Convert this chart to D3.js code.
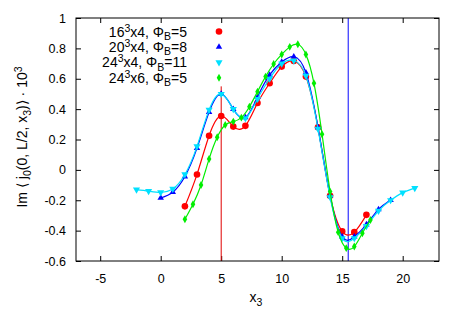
<!DOCTYPE html>
<html>
<head>
<meta charset="utf-8">
<script src="https://cdn.jsdelivr.net/npm/d3@7"></script>
<style>
    body { margin: 0; background: #fff; }
    svg text { font-family: "Liberation Sans", Arial, sans-serif; fill: #000; }
</style>
</head>
<body>
<svg id="chart" width="467" height="327"></svg>
<script>
// lattice positions x3 and Im<j0> * 10^3 for each run
const redX   = [2, 3, 4, 5, 6, 7, 8, 9, 10, 11, 12, 13, 14, 15, 16, 17];
const redY   = [-0.24, -0.03, 0.225, 0.355, 0.285, 0.29, 0.44, 0.57, 0.68, 0.717, 0.614, 0.28, -0.17, -0.405, -0.41, -0.296];

const blueX  = [0, 1, 2, 3, 4, 5, 6, 7, 8, 9, 10, 11, 12, 13, 14, 15, 16, 17, 18, 19];
const blueY  = [-0.185, -0.147, -0.044, 0.143, 0.38, 0.5, 0.4, 0.345, 0.48, 0.625, 0.71, 0.745, 0.64, 0.28, -0.17, -0.44, -0.44, -0.36, -0.26, -0.2];

const cyanX  = [-2, -1, 0, 1, 2, 3, 4, 5, 6, 7, 8, 9, 10, 11, 12, 13, 14, 15, 16, 17, 18, 19, 20, 21];
const cyanY  = [-0.13, -0.14, -0.148, -0.125, -0.03, 0.155, 0.395, 0.5, 0.4, 0.34, 0.467, 0.6, 0.7, 0.72, 0.62, 0.27, -0.18, -0.45, -0.45, -0.37, -0.27, -0.2, -0.15, -0.12];

const greenX = [2, 2.667, 3.333, 4, 4.667, 5.333, 6, 6.667, 7.333, 8, 8.667, 9.333, 10, 10.667, 11.333, 12, 12.667, 13.333, 14, 14.667, 15.333, 16, 16.667, 17.333];
const greenY = [-0.325, -0.226, -0.1, 0.072, 0.215, 0.296, 0.318, 0.344, 0.416, 0.515, 0.614, 0.697, 0.76, 0.81, 0.827, 0.76, 0.57, 0.235, -0.143, -0.41, -0.515, -0.505, -0.417, -0.33];

const xTicks = [-5, 0, 5, 10, 15, 20];
const yTicks = [-0.6, -0.4, -0.2, 0, 0.2, 0.4, 0.6, 0.8, 1];

// vertical markers: [x3, yFrom, yTo]
const redMark  = [5, -0.6, 0.55];
const blueMark = [15.5, -0.6, 1];

const LEFT = 76, RIGHT = 439, TOP = 18, BOTTOM = 261;
const FONT = '"Liberation Sans", Arial, sans-serif';

const svg = d3.select('#chart');

const x = d3.scaleLinear().domain([-7, 23]).range([LEFT, RIGHT]);
const y = d3.scaleLinear().domain([-0.6, 1]).range([BOTTOM, TOP]);

// gnuplot style labels: plain hyphen for negatives
const fmt = d => String(+d.toFixed(1));

// ticks, inward, mirrored on all sides
const TICK = 5;
svg.append('g')
    .attr('transform', `translate(0,${BOTTOM})`)
    .call(d3.axisBottom(x).tickValues(xTicks).tickSizeInner(-TICK).tickSizeOuter(0).tickPadding(13).tickFormat(fmt))
    .call(g => g.select('.domain').remove())
    .call(g => g.selectAll('text').attr('font-size', 12.5).attr('font-family', FONT));
svg.append('g')
    .attr('transform', `translate(0,${TOP})`)
    .call(d3.axisTop(x).tickValues(xTicks).tickSizeInner(-TICK).tickSizeOuter(0).tickFormat(''))
    .call(g => g.select('.domain').remove());
svg.append('g')
    .attr('transform', `translate(${LEFT},0)`)
    .call(d3.axisLeft(y).tickValues(yTicks).tickSizeInner(-TICK).tickSizeOuter(0).tickPadding(10).tickFormat(fmt))
    .call(g => g.select('.domain').remove())
    .call(g => g.selectAll('text').attr('font-size', 12.5).attr('font-family', FONT));
svg.append('g')
    .attr('transform', `translate(${RIGHT},0)`)
    .call(d3.axisRight(y).tickValues(yTicks).tickSizeInner(-TICK).tickSizeOuter(0).tickFormat(''))
    .call(g => g.select('.domain').remove());

// vertical lines
svg.append('line')
    .attr('x1', x(redMark[0])).attr('x2', x(redMark[0]))
    .attr('y1', y(redMark[1])).attr('y2', y(redMark[2]))
    .attr('stroke', '#e00000').attr('stroke-width', 1);
svg.append('line')
    .attr('x1', x(blueMark[0])).attr('x2', x(blueMark[0]))
    .attr('y1', y(blueMark[1])).attr('y2', y(blueMark[2]))
    .attr('stroke', '#3030ff').attr('stroke-width', 1.2);

const series = [
    { xs: redX,   ys: redY,   color: '#ff0000', symbol: 'circle' },
    { xs: blueX,  ys: blueY,  color: '#0000ff', symbol: 'up' },
    { xs: cyanX,  ys: cyanY,  color: '#00e0ff', symbol: 'down' },
    { xs: greenX, ys: greenY, color: '#00ee00', symbol: 'diamond' }
];

const line = d3.line()
    .x(d => x(d[0]))
    .y(d => y(d[1]))
    .curve(d3.curveNatural);

function drawSymbol (g, kind, color) {
    if (kind === 'circle') {
        g.append('circle').attr('r', 3.3).attr('fill', color);
    } else if (kind === 'up') {
        g.append('path').attr('d', d3.symbol(d3.symbolTriangle, 18)()).attr('fill', color);
    } else if (kind === 'down') {
        g.append('path').attr('d', d3.symbol(d3.symbolTriangle, 22)()).attr('transform', 'rotate(180)').attr('fill', color);
    } else {
        g.append('path').attr('d', d3.symbol(d3.symbolDiamond, 18)()).attr('fill', color);
    }
}

series.forEach(s => {
    const pts = s.xs.map((v, i) => [v, s.ys[i]]);
    svg.append('path')
        .datum(pts)
        .attr('d', line)
        .attr('fill', 'none')
        .attr('stroke', s.color)
        .attr('stroke-width', 1.2);
    pts.forEach(p => {
        const g = svg.append('g').attr('transform', `translate(${x(p[0])},${y(p[1])})`);
        drawSymbol(g, s.symbol, s.color);
    });
});

// border
svg.append('rect')
    .attr('x', LEFT).attr('y', TOP)
    .attr('width', RIGHT - LEFT).attr('height', BOTTOM - TOP)
    .attr('fill', 'none').attr('stroke', '#000').attr('stroke-width', 1);

// legend
const legendRows = [
    { l: '16', e: '3', m: 'x4, Φ', s: 'B', r: '=5' },
    { l: '20', e: '3', m: 'x4, Φ', s: 'B', r: '=8' },
    { l: '24', e: '3', m: 'x4, Φ', s: 'B', r: '=11' },
    { l: '24', e: '3', m: 'x6, Φ', s: 'B', r: '=5' }
];
legendRows.forEach((row, i) => {
    const yy = 31.5 + i * 15.4;
    const t = svg.append('text')
        .attr('x', 187).attr('y', yy + 5)
        .attr('text-anchor', 'end')
        .attr('font-size', 14);
    t.append('tspan').text(row.l);
    t.append('tspan').attr('dy', -5).attr('font-size', 10.5).text(row.e);
    t.append('tspan').attr('dy', 5).text(row.m);
    t.append('tspan').attr('dy', 3.5).attr('font-size', 10.5).text(row.s);
    t.append('tspan').attr('dy', -3.5).text(row.r);
    const g = svg.append('g').attr('transform', `translate(219,${yy})`);
    drawSymbol(g, series[i].symbol, series[i].color);
});

// axis labels
const xl = svg.append('text')
    .attr('x', 256).attr('y', 302)
    .attr('text-anchor', 'middle')
    .attr('font-size', 14);
xl.append('tspan').text('x');
xl.append('tspan').attr('dy', 4).attr('font-size', 10.5).text('3');

const yl = svg.append('text')
    .attr('transform', 'translate(27,137) rotate(-90)')
    .attr('text-anchor', 'middle')
    .attr('font-size', 14);
yl.append('tspan').text('Im ⟨ j');
yl.append('tspan').attr('dy', 4).attr('font-size', 10.5).text('0');
yl.append('tspan').attr('dy', -4).text('(0, L/2, x');
yl.append('tspan').attr('dy', 4).attr('font-size', 10.5).text('3');
yl.append('tspan').attr('dy', -4).text(')⟩ · 10');
yl.append('tspan').attr('dy', -5).attr('font-size', 10.5).text('3');
</script>
</body>
</html>
